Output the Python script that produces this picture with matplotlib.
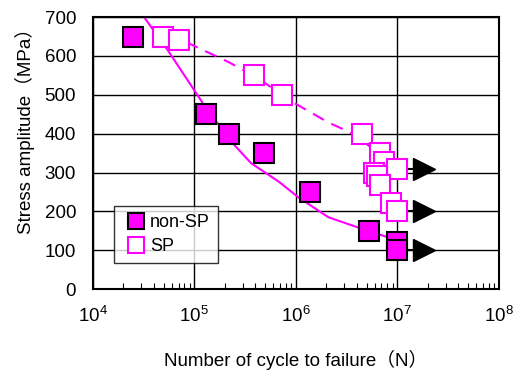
import matplotlib
matplotlib.use('Agg')
import matplotlib.pyplot as plt
from matplotlib.ticker import LogLocator, NullFormatter

plt.rcParams['font.family'] = ['Liberation Sans', 'Noto Sans CJK JP', 'DejaVu Sans']
plt.rcParams['mathtext.fontset'] = 'custom'
plt.rcParams['mathtext.rm'] = 'Liberation Sans'

# non-SP (filled squares)
nonsp_n = [2.5e4, 1.3e5, 2.2e5, 4.9e5, 1.38e6, 5.3e6, 1.0e7, 1.0e7]
nonsp_s = [650, 450, 400, 350, 250, 150, 120, 100]

# SP (open squares)
sp_n = [4.9e4, 7.1e4, 3.9e5, 7.4e5, 4.5e6, 6.7e6, 7.4e6, 1.0e7, 5.9e6, 6.3e6, 6.8e6, 8.7e6, 1.0e7]
sp_s = [650, 640, 550, 500, 400, 350, 327, 310, 300, 290, 267, 221, 200]

# trend curves
solid_n = [3.2e4, 5.5e4, 1.29e5, 2.34e5, 3.63e5, 6.76e5, 1.05e6, 2.09e6, 4.27e6, 7.94e6, 1.0e7]
solid_s = [700, 614, 468, 378, 324, 277, 237, 185, 157, 134, 121]
dash_n = [5.5e4, 8.9e4, 2.19e5, 4.27e5, 9.8e5, 2.09e6, 3.39e6, 4.9e6, 6.0e6, 6.5e6, 7.4e6, 8.5e6, 9.5e6]
dash_s = [661, 632, 584, 542, 478, 429, 404, 375, 357, 344, 288, 249, 203]

# run-outs (arrows)
runout_s = [310, 200, 100]
runout_start = 1.0e7
runout_tip = 1.84e7

mag = '#FF00FF'

fig = plt.figure(figsize=(5.13, 3.72), dpi=100)
ax = fig.add_axes([0.181, 0.223, 0.791, 0.731])

ax.plot(solid_n, solid_s, '-', color=mag, lw=1.5, zorder=2)
ax.plot(dash_n, dash_s, '--', color=mag, lw=1.5, dashes=(6, 4), zorder=2)

for s in runout_s:
    ax.plot([runout_start, runout_tip], [s, s], color='black', lw=1.5, zorder=1)
    ax.plot([runout_tip], [s], marker='>', color='black', ms=16, ls='none', zorder=3)

ax.plot(sp_n, sp_s, 's', ms=15, mfc='white', mec=mag, mew=1.5, ls='none', zorder=4,
        label='SP')
ax.plot(nonsp_n, nonsp_s, 's', ms=15, mfc=mag, mec='black', mew=1.5, ls='none', zorder=5,
        label='non-SP')

ax.set_xscale('log')
ax.set_xlim(1e4, 1e8)
ax.set_ylim(0, 700)
ax.set_yticks(range(0, 701, 100))
ax.xaxis.set_major_locator(LogLocator(base=10, numticks=10))
ax.xaxis.set_minor_locator(LogLocator(base=10, subs=range(2, 10), numticks=20))
ax.xaxis.set_minor_formatter(NullFormatter())
ax.grid(True, which='major', color='black', lw=1)
ax.tick_params(axis='both', which='major', length=0, labelsize=13.5)
ax.tick_params(axis='y', which='major', pad=12)
ax.tick_params(axis='x', which='major', pad=12)
ax.tick_params(axis='x', which='minor', direction='in', length=4, width=0.8)
for sp in ax.spines.values():
    sp.set_linewidth(1.5)

# axis titles placed as in the original
fig.text(25 / 513, 1 - 126 / 372, 'Stress amplitude（MPa）', fontsize=13.5,
         rotation=90, ha='center', va='center')
fig.text(296 / 513, 1 - 360 / 372, 'Number of cycle to failure（N）', fontsize=13.5,
         ha='center', va='center')

h, l = ax.get_legend_handles_labels()
leg = ax.legend(h[::-1], l[::-1], loc='lower left', bbox_to_anchor=(0.052, 0.095),
                fontsize=13, frameon=True, fancybox=False, edgecolor='black',
                markerscale=0.75, handlelength=1.5, handletextpad=0.05, borderpad=0.45,
                labelspacing=0.4, borderaxespad=0)
leg.get_frame().set_linewidth(1)

fig.savefig('out.png', dpi=100)
